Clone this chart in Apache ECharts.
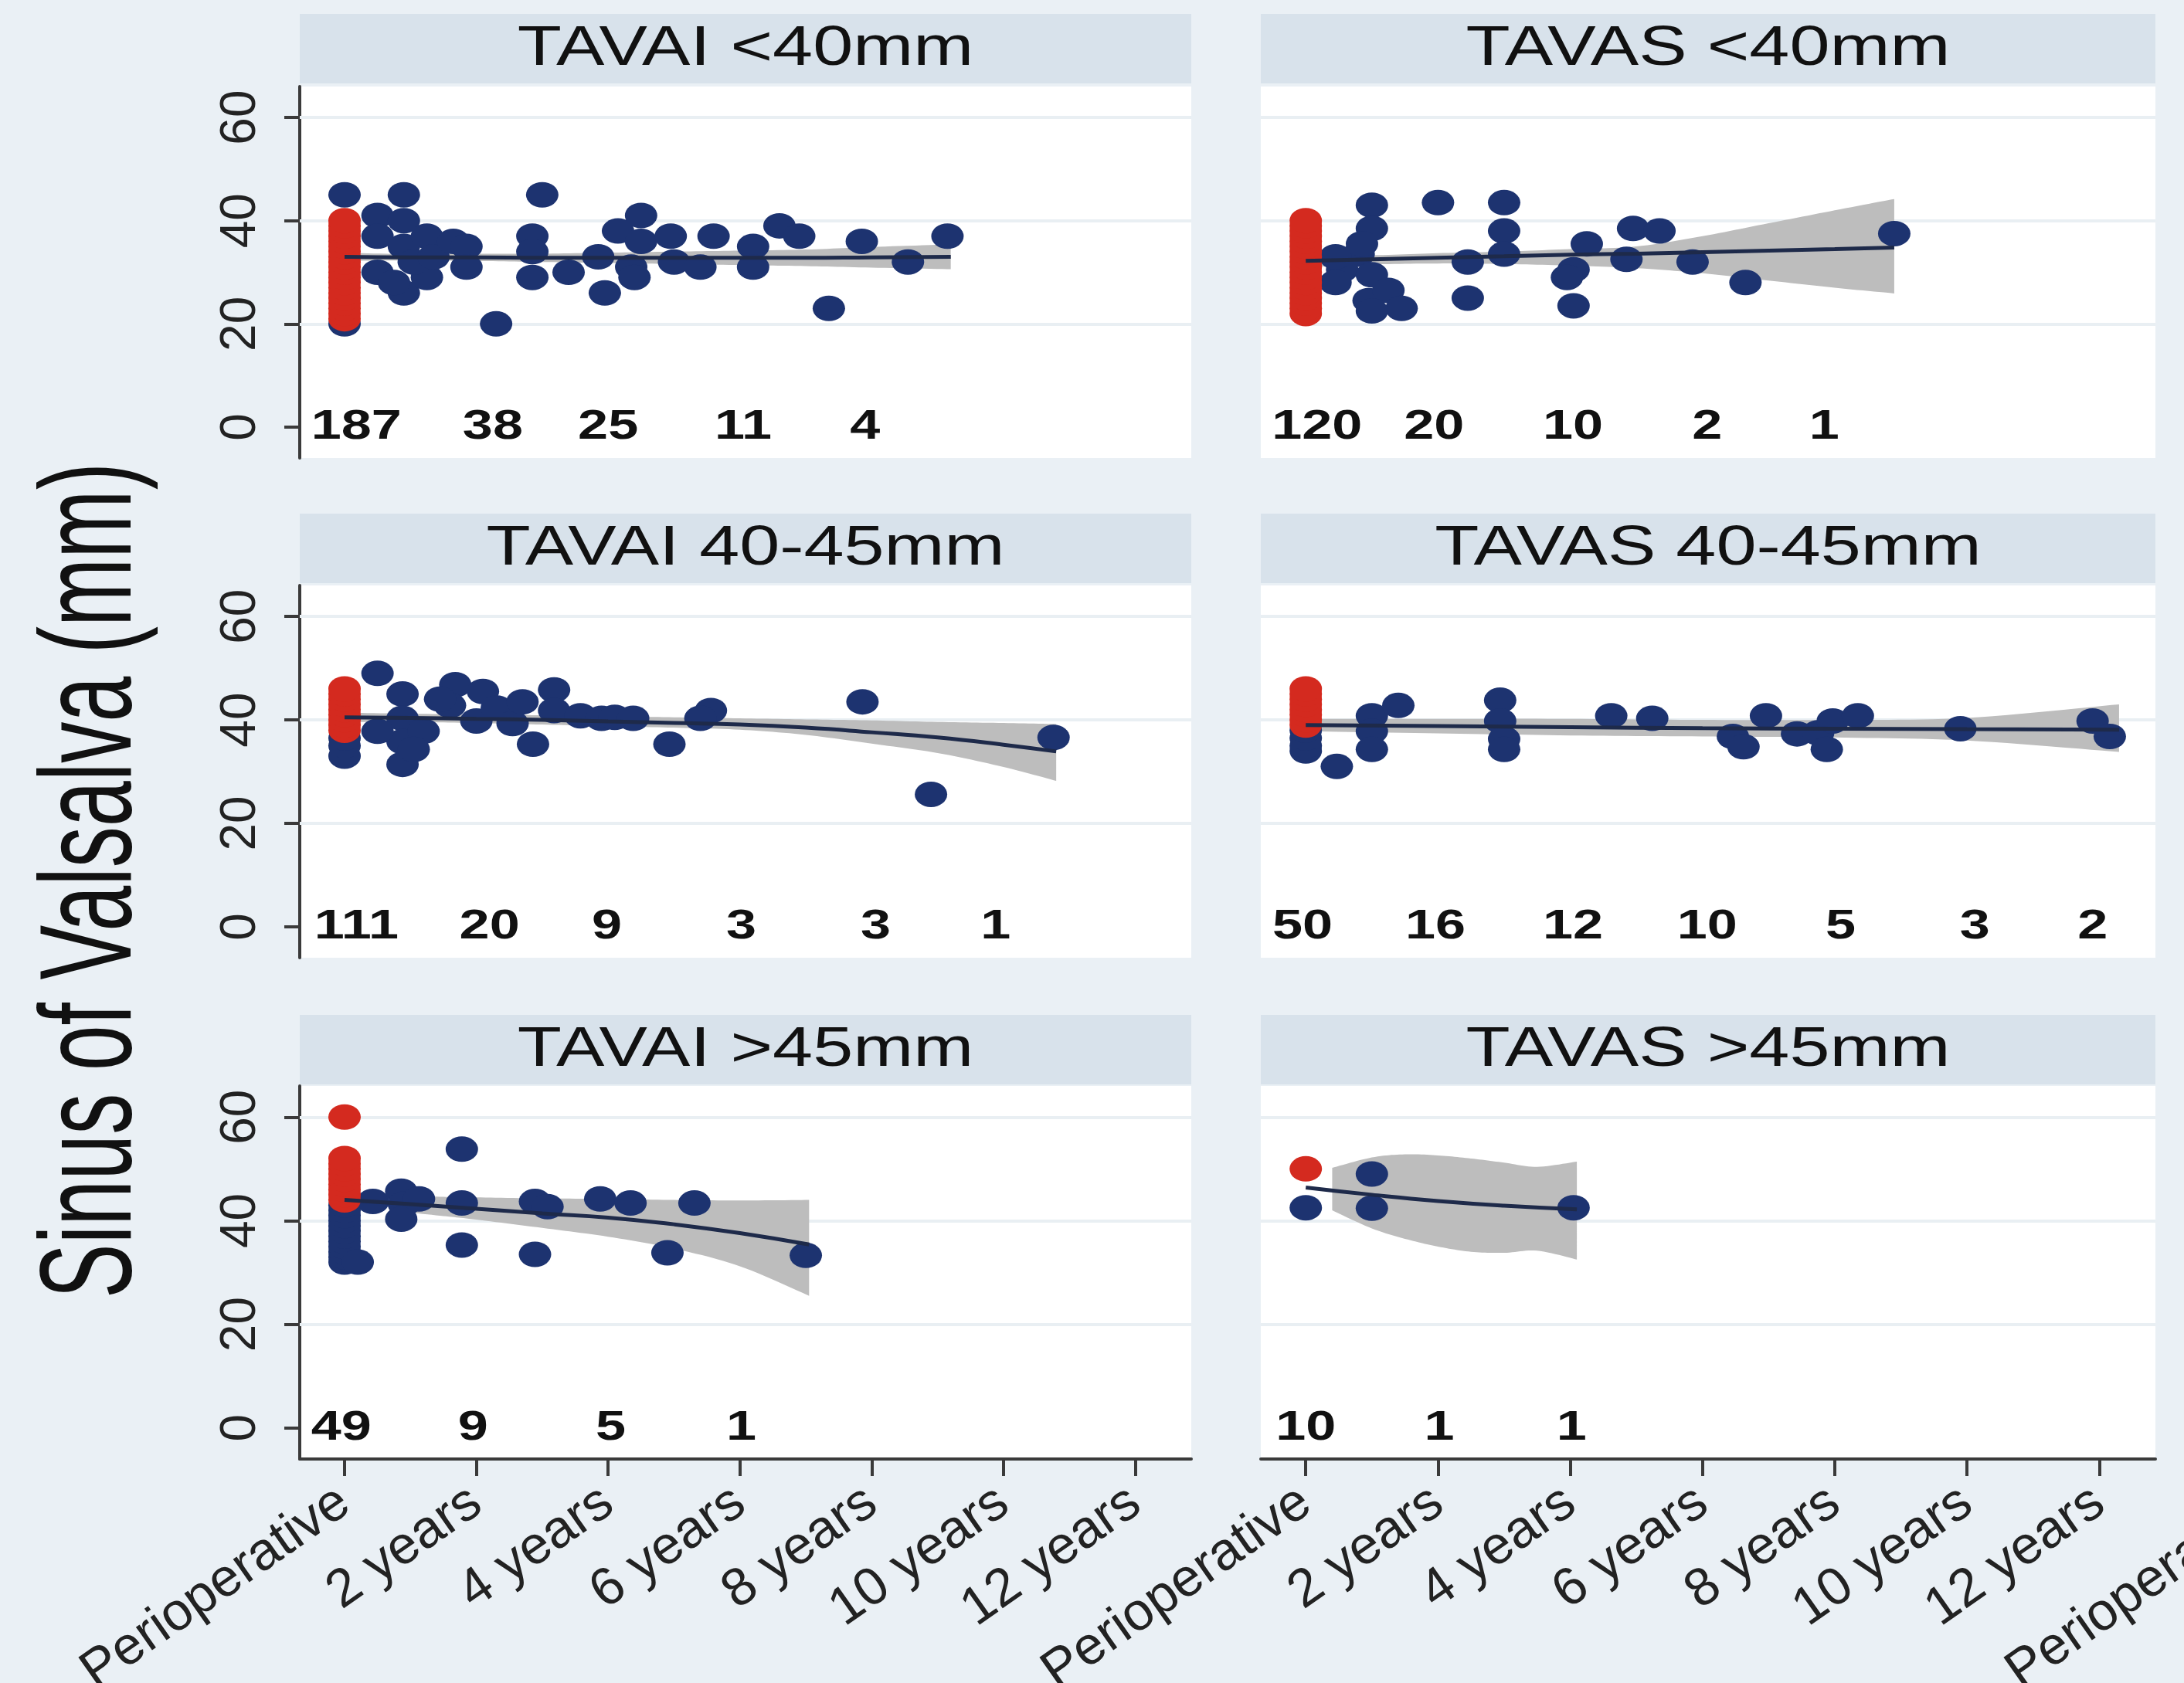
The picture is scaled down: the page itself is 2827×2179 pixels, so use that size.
<!DOCTYPE html>
<html>
<head>
<meta charset="utf-8">
<script src="https://cdn.jsdelivr.net/npm/echarts@6/dist/echarts.min.js"></script>
<style>
html,body{margin:0;padding:0;background:#eaf0f5;}
#chart{width:2827px;height:2179px;}
</style>
</head>
<body>
<div id="chart"></div>
<script>
// ---------------- DATA ----------------
const panelTitles = ['TAVAI <40mm','TAVAS <40mm','TAVAI 40-45mm','TAVAS 40-45mm','TAVAI >45mm','TAVAS >45mm'];
const xTickValues = [0,2,4,6,8,10,12];
const xTickLabels = ['Perioperative','2 years','4 years','6 years','8 years','10 years','12 years'];
const yTickValues = [0,20,40,60];
const yGridValues = [20,40,60];
const yAxisTitle = 'Sinus of Valsalva (mm)';

// Panel A: TAVAI <40mm
const redA = [21,22,23,24,25,26,27,28,29,30,31,32,33,34,35,36,37,38,39,40];
const navyA = [[0,45],[0,20],[0.9,45],[3.0,45],[0.5,41],[0.5,37],[0.5,30],[0.9,40],[0.9,35],[0.9,26],[1.25,37],[1.25,29],[1.05,32],[0.75,28],[1.35,33],[1.65,36],[1.85,35],[1.85,31],[2.3,20],[2.85,37],[2.85,34],[2.85,29],[3.4,30],[3.85,33],[3.95,26],[4.15,38],[4.5,41],[4.5,36],[4.35,31],[4.4,29],[4.95,37],[5.0,32],[5.4,31],[5.6,37],[6.2,35],[6.2,31],[6.6,39],[6.9,37],[7.35,23],[7.85,36],[8.55,32],[9.15,37]];
const fitA_t  = [0,1,2,3,4,5,6,7,8,9.2];
const fitA_y  = [33.0,32.9,32.9,32.8,32.8,32.8,32.8,32.8,32.9,33.0];
const fitA_lo = [32.2,32.3,32.2,32.0,31.8,31.6,31.4,31.2,30.9,30.6];
const fitA_hi = [33.8,33.5,33.6,33.6,33.8,34.0,34.2,34.4,34.9,35.4];
const countsA = ['187','38','25','11','4'];
const countsA_t = [0.18,2.25,4.0,6.05,7.9];

// Panel B: TAVAS <40mm
const redB = [22,23,24,25,26,27,28,29,30,31,32,33,34,35,36,37,38,39,40];
const navyB = [[1.0,43],[1.0,38.5],[0.8,33.5],[0.55,30.5],[1.0,29.5],[0.95,24.5],[1.25,26.5],[1.45,23],[1.0,22.5],[0.85,35.5],[0.45,28],[0.45,33],[2.0,43.5],[2.45,32],[2.45,25],[3.0,43.5],[3.0,38],[3.0,33.5],[4.25,35.5],[4.05,30.5],[3.95,29],[4.05,23.5],[4.95,38.5],[5.35,38],[4.85,32.5],[5.85,32],[6.65,28],[8.9,37.5]];
const fitB_t  = [0,1,2,3,4,5,6,7,8,8.9];
const fitB_y  = [32.2,32.5,32.8,33.1,33.4,33.6,33.9,34.2,34.5,34.8];
const fitB_lo = [31.0,31.5,31.7,31.6,31.3,30.8,29.8,28.4,27.0,25.9];
const fitB_hi = [33.4,33.3,33.7,34.0,34.5,35.0,37.0,39.5,42.0,44.2];
const countsB = ['120','20','10','2','1'];
const countsB_t = [0.17,1.94,4.04,6.07,7.84];

// Panel C: TAVAI 40-45mm
const redC = [38,39,40,41,42,43,44,45,46];
const navyC = [[0,33],[0,35],[0,36.5],[0.5,49],[0.88,45],[0.88,40.3],[0.88,35.8],[0.88,31.4],[0.5,37.8],[1.2,37.8],[1.05,34.3],[1.68,46.8],[1.6,42.8],[1.45,44],[2.0,39.8],[2.1,45.5],[2.31,42.3],[2.55,39.3],[2.7,43.5],[3.18,45.8],[3.18,41.8],[2.86,35.3],[3.58,40.8],[3.9,40.3],[4.1,40.5],[4.38,40.3],[4.93,35.3],[5.56,41.8],[5.4,40.3],[7.86,43.5],[8.9,25.6],[10.76,36.6]];
const fitC_t  = [0,1,2,3,4,5,6,7,8,9,10,10.8];
const fitC_y  = [40.5,40.4,40.2,40.0,39.7,39.4,39.1,38.5,37.6,36.6,35.2,33.9];
const fitC_lo = [39.6,39.6,39.4,39.1,38.8,38.5,38.1,37.1,35.4,33.6,30.9,28.2];
const fitC_hi = [41.4,41.2,41.0,40.9,40.7,40.5,40.3,40.1,39.9,39.6,39.4,39.2];
const countsC = ['111','20','9','3','3','1'];
const countsC_t = [0.18,2.2,3.98,6.02,8.06,9.88];

// Panel D: TAVAS 40-45mm
const redD = [39,40,41,42,43,44,45,46];
const navyD = [[0,34],[0,35],[0,36.5],[0,38],[0.47,31],[1.0,40.8],[1.0,37.8],[1.0,34.3],[1.4,42.8],[2.94,43.8],[2.94,39.8],[3.0,36.3],[3.0,34.3],[4.62,40.8],[5.24,40.3],[6.46,36.8],[6.62,34.8],[6.96,40.8],[7.43,37.3],[7.75,37.5],[7.88,34.3],[7.97,39.8],[8.35,40.8],[9.9,38.3],[11.9,39.8],[12.16,36.8]];
const fitD_t  = [0,2,4,6,8,10,12.3];
const fitD_y  = [39.0,38.8,38.6,38.4,38.3,38.2,38.1];
const fitD_lo = [37.8,37.4,37.0,36.8,36.6,36.0,33.8];
const fitD_hi = [40.2,40.2,40.2,40.0,40.0,40.4,43.0];
const countsD = ['50','16','12','10','5','3','2'];
const countsD_t = [-0.05,1.96,4.04,6.07,8.09,10.12,11.9];

// Panel E: TAVAI >45mm
const redE = [44,45,46,47,48,49,50,51,52,60];
const navyE = [[0,32],[0,33],[0,34],[0,35],[0,36],[0,37],[0,38],[0,39],[0,40],[0,41],[0,42],[0,43],[0.2,32],[0.43,43.7],[0.86,45.7],[0.9,43.2],[0.86,40.3],[1.13,44.2],[1.78,53.8],[1.78,43.4],[1.78,35.3],[2.89,43.7],[3.08,42.7],[2.89,33.5],[3.88,44.2],[4.34,43.4],[4.9,33.8],[5.31,43.4],[7.0,33.3]];
const fitE_t  = [0,1,2,3,4,5,6,7.05];
const fitE_y  = [44.0,43.2,42.3,41.4,40.6,39.3,37.6,35.4];
const bandE_t  = [0.8,1.5,2,3,4,5,6,7.05];
const bandE_lo = [41.8,40.9,40.2,38.6,36.9,34.6,31.2,25.5];
const bandE_hi = [44.8,44.6,44.5,44.3,44.2,44.0,43.9,44.0];
const countsE = ['49','9','5','1'];
const countsE_t = [-0.05,1.95,4.04,6.02];

// Panel F: TAVAS >45mm
const redF = [50];
const navyF = [[0,42.5],[1,49],[1,42.4],[4.05,42.5]];
const fitF_t  = [0,1,2,3,4.1];
const fitF_y  = [46.4,45.0,43.8,42.9,42.2];
const bandF_t  = [0.4,1,1.5,2,2.5,3,3.5,4.1];
const bandF_lo = [42.0,38.5,36.5,35.0,34.0,33.8,34.2,32.5];
const bandF_hi = [50.2,52.2,52.8,52.6,52.0,51.2,50.4,51.4];
const countsF = ['10','1','1'];
const countsF_t = [0,2.02,4.02];

// ---------------- LAYOUT / STYLE ----------------
const FONT = "'Liberation Sans', Arial, Helvetica, sans-serif";
const NAVY = '#1d3370', RED = '#d42a1f', BAND = '#bdbdbd', FITC = '#1e2a4a';
const AXC = '#3a3a3a';
const COLS = [{left:388, width:1154},{left:1632, width:1158}];
const ROWS = [{top:112, height:481},{top:758, height:482},{top:1406, height:483}];
const STRIP_TOP = [18, 665, 1314], STRIP_H = 90;
const TEXT_STRETCH = 1.3;

const panels = [
  {red:redA, navy:navyA, ft:fitA_t, fy:fitA_y, bt:fitA_t, lo:fitA_lo, hi:fitA_hi, c:countsA, ct:countsA_t},
  {red:redB, navy:navyB, ft:fitB_t, fy:fitB_y, bt:fitB_t, lo:fitB_lo, hi:fitB_hi, c:countsB, ct:countsB_t},
  {red:redC, navy:navyC, ft:fitC_t, fy:fitC_y, bt:fitC_t, lo:fitC_lo, hi:fitC_hi, c:countsC, ct:countsC_t},
  {red:redD, navy:navyD, ft:fitD_t, fy:fitD_y, bt:fitD_t, lo:fitD_lo, hi:fitD_hi, c:countsD, ct:countsD_t},
  {red:redE, navy:navyE, ft:fitE_t, fy:fitE_y, bt:bandE_t, lo:bandE_lo, hi:bandE_hi, c:countsE, ct:countsE_t},
  {red:redF, navy:navyF, ft:fitF_t, fy:fitF_y, bt:bandF_t, lo:bandF_lo, hi:bandF_hi, c:countsF, ct:countsF_t}
];

// Catmull-Rom smoothing of pixel points (rendering only)
function smoothPts(pts, steps){
  if (pts.length < 3) return pts.slice();
  const out = [];
  for (let i = 0; i < pts.length - 1; i++){
    const p0 = pts[Math.max(0, i-1)], p1 = pts[i], p2 = pts[i+1], p3 = pts[Math.min(pts.length-1, i+2)];
    for (let s = 0; s < steps; s++){
      const u = s/steps, u2 = u*u, u3 = u2*u;
      out.push([
        0.5*((2*p1[0]) + (-p0[0]+p2[0])*u + (2*p0[0]-5*p1[0]+4*p2[0]-p3[0])*u2 + (-p0[0]+3*p1[0]-3*p2[0]+p3[0])*u3),
        0.5*((2*p1[1]) + (-p0[1]+p2[1])*u + (2*p0[1]-5*p1[1]+4*p2[1]-p3[1])*u2 + (-p0[1]+3*p1[1]-3*p2[1]+p3[1])*u3)
      ]);
    }
  }
  out.push(pts[pts.length-1]);
  return out;
}

const grid = [], xAxis = [], yAxis = [], series = [], graphic = [];

function xAxisDef(i, showAxis){
  return {
    gridIndex:i, type:'value', min:-0.68, max:12.85, show:showAxis,
    axisLine:{show:true, onZero:false, lineStyle:{color:AXC, width:4}},
    axisTick:{show:true, customValues:xTickValues, length:22, lineStyle:{color:AXC, width:4}},
    axisLabel:{show:true, customValues:xTickValues, rotate:35, margin:50, fontSize:69, fontFamily:FONT, color:'#222',
      formatter:function(v){ const k = xTickValues.indexOf(v); return k>=0 ? xTickLabels[k] : ''; }},
    splitLine:{show:false}
  };
}

panels.forEach(function(p, i){
  const row = Math.floor(i/2), col = i%2;
  grid.push({left:COLS[col].left, top:ROWS[row].top, width:COLS[col].width, height:ROWS[row].height,
    show:true, backgroundColor:'#ffffff', borderWidth:0, outerBoundsMode:'none', containLabel:false});
  xAxis.push(xAxisDef(i, row===2));
  yAxis.push({
    gridIndex:i, type:'value', min:-6, max:66, show:col===0,
    axisLine:{show:true, onZero:false, lineStyle:{color:AXC, width:4}},
    axisTick:{show:true, customValues:yTickValues, length:20, lineStyle:{color:AXC, width:4}},
    axisLabel:{show:true, customValues:yTickValues, rotate:90, margin:44, fontSize:64, fontFamily:FONT, color:'#222'},
    splitLine:{show:false}
  });
  // confidence band
  const bt = p.bt, lo = p.lo, hi = p.hi;
  series.push({
    type:'custom', coordinateSystem:'cartesian2d', xAxisIndex:i, yAxisIndex:i, z:2, silent:true,
    data:bt.map(function(t,k){return [t, lo[k], hi[k]];}),
    renderItem:function(params, api){
      if (params.dataIndex !== 0) return null;
      const up = bt.map(function(t,k){return api.coord([t, hi[k]]);});
      const dn = bt.map(function(t,k){return api.coord([t, lo[k]]);});
      const pts = smoothPts(up, 12).concat(smoothPts(dn, 12).reverse());
      return {type:'polygon', shape:{points:pts}, style:{fill:BAND}};
    }
  });
  // follow-up measurements (also hosts the faint grid lines)
  series.push({
    type:'scatter', xAxisIndex:i, yAxisIndex:i, z:3, symbol:'circle', symbolSize:[42,33],
    itemStyle:{color:NAVY, opacity:1}, data:p.navy,
    markLine:{silent:true, z:1, symbol:['none','none'], label:{show:false}, animation:false,
      lineStyle:{color:'#e9eff3', width:4, type:'solid', opacity:1},
      emphasis:{disabled:true},
      data:yGridValues.map(function(v){return {yAxis:v};})}
  });
  // perioperative measurements
  series.push({
    type:'scatter', xAxisIndex:i, yAxisIndex:i, z:4, symbol:'circle', symbolSize:[42,33],
    itemStyle:{color:RED, opacity:1}, data:p.red.map(function(v){return [0, v];})
  });
  // fitted line
  series.push({
    type:'line', xAxisIndex:i, yAxisIndex:i, z:5, smooth:true, symbol:'none', silent:true,
    lineStyle:{color:FITC, width:5}, data:p.ft.map(function(t,k){return [t, p.fy[k]];})
  });
  // numbers at risk
  const labels = p.c;
  series.push({
    type:'custom', coordinateSystem:'cartesian2d', xAxisIndex:i, yAxisIndex:i, z:6, silent:true,
    data:p.ct.map(function(t){return [t, 0];}),
    renderItem:function(params, api){
      const pt = api.coord([api.value(0), api.value(1)]);
      return {type:'text', x:pt[0], y:pt[1], scaleX:TEXT_STRETCH,
        style:{text:labels[params.dataIndex], font:'bold 54px '+FONT, fill:'#111', align:'center', verticalAlign:'middle'}};
    }
  });
  // strip + title
  graphic.push({type:'rect', z:0, shape:{x:COLS[col].left, y:STRIP_TOP[row], width:COLS[col].width, height:STRIP_H},
    style:{fill:'#d8e2eb'}});
  graphic.push({type:'text', z:1, x:COLS[col].left + COLS[col].width/2, y:STRIP_TOP[row] + STRIP_H/2 + 1, scaleX:TEXT_STRETCH,
    style:{text:panelTitles[i], font:'72px '+FONT, fill:'#111', align:'center', verticalAlign:'middle'}});
});

// third (cropped) column: only its x-axis labels peek into view
grid.push({left:2880, top:ROWS[2].top, width:1158, height:ROWS[2].height, show:false, outerBoundsMode:'none', containLabel:false});
xAxis.push(xAxisDef(6, true));
yAxis.push({gridIndex:6, type:'value', min:-6, max:66, show:false});

// y-axis title
graphic.push({type:'text', z:1, x:122, y:1140, rotation:Math.PI/2, scaleY:1.6,
  style:{text:yAxisTitle, font:'106px '+FONT, fill:'#111', align:'center', verticalAlign:'middle'}});

const chart = echarts.init(document.getElementById('chart'), null, {renderer:'canvas'});
chart.setOption({
  backgroundColor:'#eaf0f5',
  animation:false,
  grid:grid, xAxis:xAxis, yAxis:yAxis, series:series, graphic:graphic
});
</script>
</body>
</html>
